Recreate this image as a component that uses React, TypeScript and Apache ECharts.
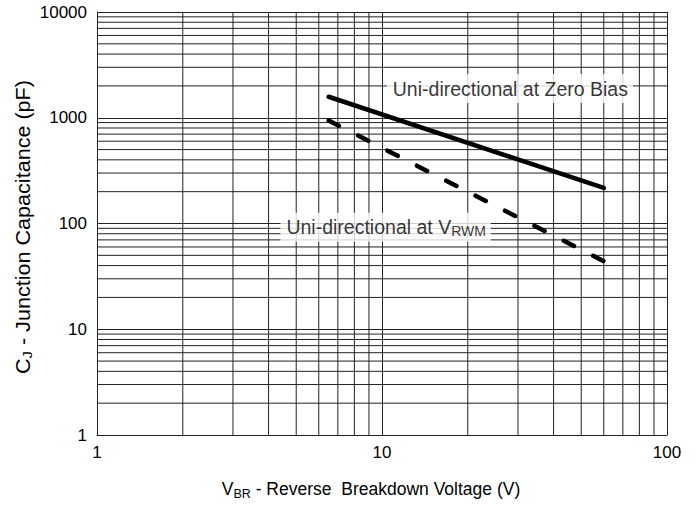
import React, { useEffect, useRef } from 'react';
import * as echarts from 'echarts';

// Axis ranges and tick labels
const X_MIN = 1;
const X_MAX = 100;
const Y_MIN = 1;
const Y_MAX = 10000;

// Minor grid values
const xMinorGrid = [2, 3, 4, 5, 6, 7, 8, 9, 20, 30, 40, 50, 60, 70, 80, 90];
const yMinorGrid = [
  2, 3, 4, 5, 6, 7, 8, 9,
  20, 30, 40, 50, 60, 70, 80, 90,
  200, 300, 400, 500, 600, 700, 800, 900,
  2000, 3000, 4000, 5000, 6000, 7000, 8000, 9000,
];

// Curves: [V_BR (V), C_J (pF)]
const zeroBiasCurve = [
  [6.5, 1580],
  [60, 217],
];
const vrwmCurve = [
  [6.5, 940],
  [60, 44],
];

// Annotation anchors (data coordinates)
const zeroBiasLabelAt = [28.1, 1890];
const vrwmLabelAt = [10.3, 92];

const FONT = '"Liberation Sans", Arial, sans-serif';
const GRID_COLOR = '#222';

export default function App() {
  const ref = useRef<HTMLDivElement>(null);

  useEffect(() => {
    if (!ref.current) return;
    const chart = echarts.init(ref.current, undefined, { renderer: 'svg' });

    const gridLine = (vertical: boolean) => (params: any, api: any) => {
      const v = api.value(vertical ? 0 : 1);
      const p1 = vertical ? api.coord([v, Y_MIN]) : api.coord([X_MIN, v]);
      const p2 = vertical ? api.coord([v, Y_MAX]) : api.coord([X_MAX, v]);
      return {
        type: 'line',
        shape: { x1: p1[0], y1: p1[1], x2: p2[0], y2: p2[1] },
        style: { stroke: GRID_COLOR, lineWidth: 1 },
        silent: true,
      };
    };

    const option: any = {
      animation: false,
      backgroundColor: '#fff',
      grid: { left: 97, right: 33, top: 12, bottom: 73, containLabel: false },
      graphic: [
        {
          type: 'text',
          x: 371,
          y: 489,
          silent: true,
          style: {
            text: '{c|V}{s|BR}{c| - Reverse  Breakdown Voltage (V)}',
            align: 'center',
            verticalAlign: 'middle',
            rich: {
              c: { fontFamily: FONT, fontSize: 17.5, fill: '#000', lineHeight: 22 },
              s: { fontFamily: FONT, fontSize: 12.5, fill: '#000', lineHeight: 10, verticalAlign: 'bottom' },
            },
          },
        },
        {
          type: 'text',
          x: 23,
          y: 227,
          rotation: Math.PI / 2,
          scaleX: 1.08,
          silent: true,
          style: {
            text: '{c|C}{s|J}{c| - Junction Capacitance (pF)}',
            align: 'center',
            verticalAlign: 'middle',
            rich: {
              c: { fontFamily: FONT, fontSize: 20, fill: '#000', lineHeight: 22 },
              s: { fontFamily: FONT, fontSize: 13.5, fill: '#000', lineHeight: 9, verticalAlign: 'bottom' },
            },
          },
        },
      ],
      xAxis: {
        type: 'log',
        logBase: 10,
        min: X_MIN,
        max: X_MAX,
        axisLine: { show: true, lineStyle: { color: GRID_COLOR, width: 1 } },
        axisTick: { show: false },
        axisLabel: { fontFamily: FONT, fontSize: 17, color: '#000', margin: 9, formatter: (v: number) => String(v) },
        splitLine: { show: true, lineStyle: { color: GRID_COLOR, width: 1 } },
        minorTick: { show: false },
      },
      yAxis: {
        type: 'log',
        logBase: 10,
        min: Y_MIN,
        max: Y_MAX,
        axisLine: { show: true, lineStyle: { color: GRID_COLOR, width: 1 } },
        axisTick: { show: false },
        axisLabel: { fontFamily: FONT, fontSize: 17, color: '#000', margin: 10, formatter: (v: number) => String(v) },
        splitLine: { show: true, lineStyle: { color: GRID_COLOR, width: 1 } },
        minorTick: { show: false },
      },
      series: [
        {
          type: 'custom',
          name: 'xMinor',
          silent: true,
          z: 1,
          data: xMinorGrid.map((v) => [v, Y_MIN]),
          renderItem: gridLine(true),
          clip: true,
        },
        {
          type: 'custom',
          name: 'yMinor',
          silent: true,
          z: 1,
          data: yMinorGrid.map((v) => [X_MIN, v]),
          renderItem: gridLine(false),
          clip: true,
        },
        {
          type: 'line',
          name: 'Uni-directional at Zero Bias',
          data: zeroBiasCurve,
          showSymbol: false,
          symbol: 'none',
          z: 3,
          lineStyle: { color: '#000', width: 4.5, type: 'solid', cap: 'round' },
        },
        {
          type: 'line',
          name: 'Uni-directional at VRWM',
          data: vrwmCurve,
          showSymbol: false,
          symbol: 'none',
          z: 3,
          lineStyle: { color: '#000', width: 4.5, type: [11.5, 21.5], cap: 'round' },
        },
        {
          type: 'scatter',
          name: 'labels',
          z: 5,
          symbolSize: 0,
          silent: true,
          data: [
            { value: zeroBiasLabelAt, label: { formatter: '{a|Uni-directional at Zero Bias}' } },
            { value: vrwmLabelAt, label: { formatter: '{a|Uni-directional at V}{s|RWM}' } },
          ],
          label: {
            show: true,
            position: 'inside',
            backgroundColor: '#fff',
            padding: [4, 5, 4, 6],
            rich: {
              a: { fontFamily: FONT, fontSize: 19.5, color: '#000', lineHeight: 21 },
              s: { fontFamily: FONT, fontSize: 14, color: '#000', lineHeight: 9, verticalAlign: 'bottom' },
            },
          },
        },
      ],
    };

    chart.setOption(option);
    return () => chart.dispose();
  }, []);

  return <div ref={ref} style={{ width: 700, height: 508, position: 'absolute', left: 0, top: 0 }} />;
}
